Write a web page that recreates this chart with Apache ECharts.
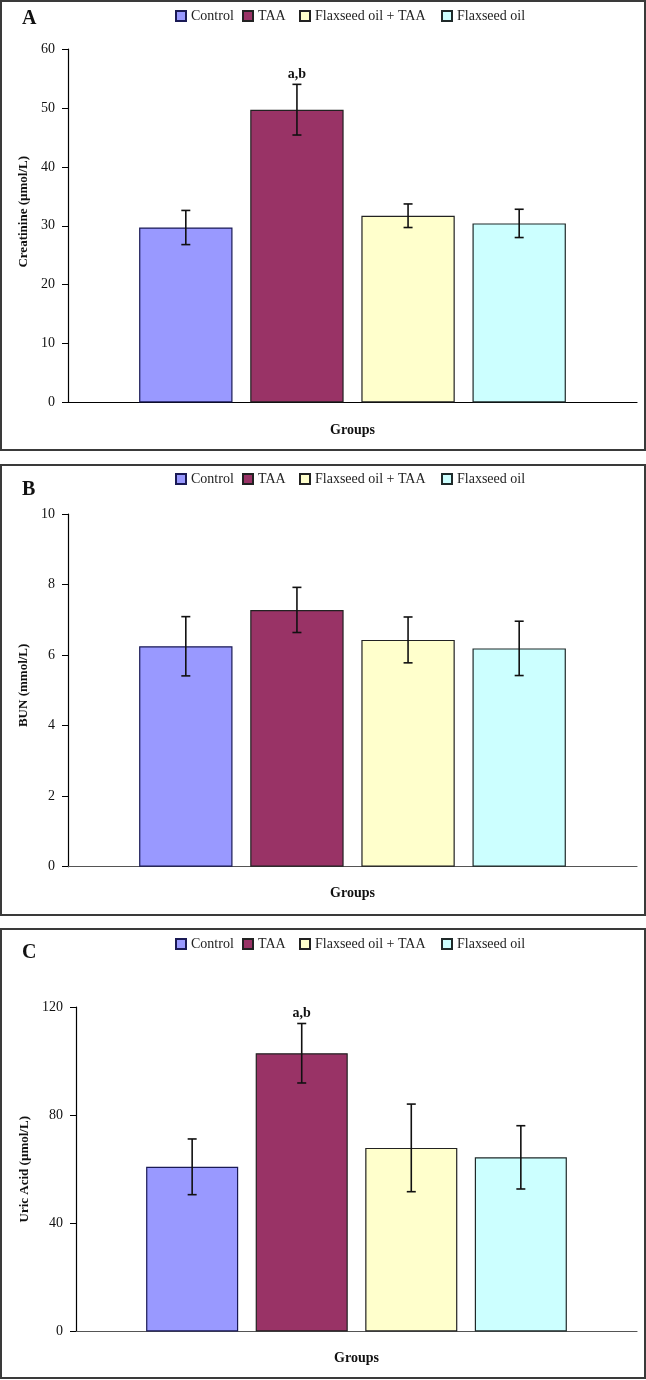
<!DOCTYPE html>
<html><head><meta charset="utf-8">
<script src="https://cdn.jsdelivr.net/npm/echarts@6/dist/echarts.min.js"></script>
<style>html,body{margin:0;padding:0;background:#fff}#c{width:646px;height:1380px}</style>
</head><body><div id="c"></div>
<script>
// ---- data ----
const groups = ['Control', 'TAA', 'Flaxseed oil + TAA', 'Flaxseed oil'];
const creatinineMean = [29.7, 49.7, 31.7, 30.4];
const creatinineErr  = [2.9, 4.3, 2.0, 2.4];
const creatinineSig  = ['', 'a,b', '', ''];
const bunMean = [6.25, 7.28, 6.43, 6.19];
const bunErr  = [0.84, 0.64, 0.65, 0.77];
const bunSig  = ['', '', '', ''];
const uricMean = [60.9, 102.9, 67.9, 64.4];
const uricErr  = [10.3, 11.0, 16.2, 11.7];
const uricSig  = ['', 'a,b', '', ''];
const creatinineTicks = [0, 10, 20, 30, 40, 50, 60];
const bunTicks = [0, 2, 4, 6, 8, 10];
const uricTicks = [0, 40, 80, 120];
const panelLetters = ['A', 'B', 'C'];
const yNames = ['Creatinine (µmol/L)', 'BUN (mmol/L)', 'Uric Acid (µmol/L)'];
const xName = 'Groups';

// ---- style ----
const colors = ['#9999FF', '#993366', '#FFFFCC', '#CCFFFF'];
const borders = ['#1a1a55', '#222', '#222', '#1f2a2a'];
const legendLefts = [175, 242, 299, 441];
const FONT = '"Liberation Serif", "Times New Roman", serif';
const CAT_GAP = 0.25, BAR_GAP = 0.19;

const panels = [
  { mean: creatinineMean, err: creatinineErr, sig: creatinineSig, ticks: creatinineTicks,
    grid: { left: 68, top: 49, width: 569, height: 353.5 }, nameGap: 30, namePad: [0, 0, 0, 28], xNameGap: 21,
    frame: { x: 1, y: 1, width: 644, height: 449 }, letterY: 19, legendTop: 9 },
  { mean: bunMean, err: bunErr, sig: bunSig, ticks: bunTicks,
    grid: { left: 68, top: 514, width: 569, height: 352.7 }, nameGap: 30, namePad: [0, 0, 0, 10], xNameGap: 20,
    frame: { x: 1, y: 465, width: 644, height: 450 }, letterY: 490, legendTop: 472 },
  { mean: uricMean, err: uricErr, sig: uricSig, ticks: uricTicks,
    grid: { left: 76, top: 1007, width: 561, height: 324.5 }, nameGap: 38, namePad: [0, 0, 0, 0], xNameGap: 20,
    frame: { x: 1, y: 929, width: 644, height: 449 }, letterY: 953, legendTop: 937 }
];

const grids = [], xAxes = [], yAxes = [], series = [], legends = [], graphics = [];

panels.forEach((p, pi) => {
  grids.push(Object.assign({ containLabel: false }, p.grid));
  xAxes.push({
    type: 'category', gridIndex: pi, data: [''],
    axisTick: { show: false }, axisLabel: { show: false },
    axisLine: { lineStyle: { color: pi === 0 ? '#000' : '#555', width: 1.2 } },
    name: xName, nameLocation: 'middle', nameGap: p.xNameGap,
    nameTextStyle: { fontFamily: FONT, fontWeight: 'bold', fontSize: 14, color: '#111' }
  });
  const t = p.ticks;
  yAxes.push({
    type: 'value', gridIndex: pi, min: t[0], max: t[t.length - 1], interval: t[1] - t[0],
    axisLine: { show: true, lineStyle: { color: '#000', width: 1.2 } },
    axisTick: { show: true, length: 6, lineStyle: { color: '#000' } },
    splitLine: { show: false },
    axisLabel: { fontFamily: FONT, fontSize: 14, color: '#111', margin: 13 },
    name: yNames[pi], nameLocation: 'middle', nameGap: p.nameGap, nameRotate: 90,
    nameTextStyle: { fontFamily: FONT, fontWeight: 'bold', fontSize: 13, color: '#111', padding: p.namePad }
  });
  groups.forEach((g, gi) => {
    series.push({
      type: 'bar', name: g, xAxisIndex: pi, yAxisIndex: pi,
      data: [p.mean[gi]],
      barGap: (BAR_GAP * 100) + '%', barCategoryGap: (CAT_GAP * 100) + '%',
      itemStyle: { color: colors[gi], borderColor: borders[gi], borderWidth: 1.2 },
      emphasis: { disabled: true }, animation: false
    });
    legends.push({
      data: [g], top: p.legendTop, left: legendLefts[gi], itemWidth: 10, itemHeight: 10,
      icon: 'rect', selectedMode: false, padding: 0,
      textStyle: { fontFamily: FONT, fontSize: 14, color: '#222' }
    });
  });
  const errData = p.mean.map((m, i) => [i, m, p.err[i]]);
  series.push({
    type: 'custom', xAxisIndex: pi, yAxisIndex: pi, data: errData, z: 10, animation: false,
    renderItem: (params, api) => {
      const i = api.value(0), m = api.value(1), e = api.value(2);
      const c = api.coord([0, m]);
      const band = api.size([1, 0])[0];
      const bw = band * (1 - CAT_GAP) / (groups.length + (groups.length - 1) * BAR_GAP);
      const step = bw * (1 + BAR_GAP);
      const x = c[0] + (i - (groups.length - 1) / 2) * step;
      const yt = api.coord([0, m + e])[1], yb = api.coord([0, m - e])[1];
      const cap = 4.5;
      const ls = { stroke: '#111', lineWidth: 1.6 };
      const children = [
        { type: 'line', shape: { x1: x, y1: yt, x2: x, y2: yb }, style: ls },
        { type: 'line', shape: { x1: x - cap, y1: yt, x2: x + cap, y2: yt }, style: ls },
        { type: 'line', shape: { x1: x - cap, y1: yb, x2: x + cap, y2: yb }, style: ls }
      ];
      const s = p.sig[params.dataIndex];
      if (s) children.push({ type: 'text', style: { text: s, x: x, y: yt - 10, textAlign: 'center', textVerticalAlign: 'middle', font: 'bold 14px ' + FONT, fill: '#111' } });
      return { type: 'group', children };
    }
  });
  graphics.push({ type: 'rect', shape: p.frame, style: { fill: 'none', stroke: '#3a3a3a', lineWidth: 2 }, z: 100 });
  graphics.push({ type: 'text', left: 22, top: p.letterY - 10, style: { text: panelLetters[pi], font: 'bold 20px ' + FONT, fill: '#111' } });
});

const chart = echarts.init(document.getElementById('c'), null, { renderer: 'canvas' });
chart.setOption({
  backgroundColor: '#fff', animation: false,
  grid: grids, xAxis: xAxes, yAxis: yAxes, series, legend: legends, graphic: graphics
});
</script></body></html>
